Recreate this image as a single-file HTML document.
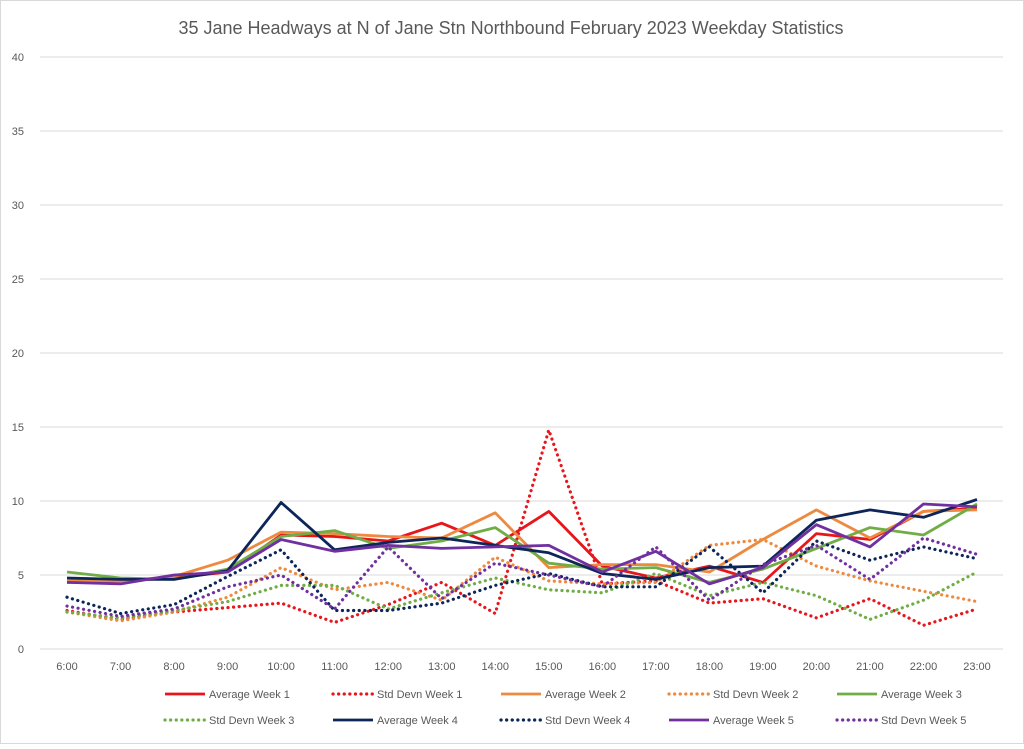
<!DOCTYPE html>
<html><head><meta charset="utf-8"><style>
body{margin:0;background:#fff;}
svg text{font-family:"Liberation Sans",sans-serif;fill:#595959;}
</style></head><body>
<svg id="c" width="1024" height="744" xmlns="http://www.w3.org/2000/svg">
<rect x="0.5" y="0.5" width="1023" height="743" fill="#fff" stroke="#d9d9d9"/>
<text x="511" y="34" font-size="18" text-anchor="middle">35 Jane Headways at N of Jane Stn Northbound February 2023 Weekday Statistics</text>
<g id="grid"></g><g id="series"></g><g id="legend"></g>
</svg>
<script>
var NS="http://www.w3.org/2000/svg",svg=document.getElementById('c');
function el(t,a,p,txt){var e=document.createElementNS(NS,t);for(var k in a)e.setAttribute(k,a[k]);if(txt!=null)e.textContent=txt;(p||svg).appendChild(e);return e;}
var g=document.getElementById('grid'),s=document.getElementById('series'),lg=document.getElementById('legend');
function X(i){return 67+i*53.53;}function Y(v){return 649-v*14.8;}
for(var v=0;v<=40;v+=5){el('line',{x1:40,x2:1003,y1:Y(v),y2:Y(v),stroke:'#d9d9d9','stroke-width':1},g);
el('text',{x:24,y:Y(v)+4,'font-size':11,'text-anchor':'end'},g,v);}
for(var i=0;i<18;i++)el('text',{x:X(i),y:670,'font-size':11,'text-anchor':'middle'},g,(6+i)+':00');
var D=[
['Average Week 1','#e8161b',0,[4.5,4.6,4.8,5.2,7.7,7.6,7.3,8.5,7.0,9.3,5.6,4.8,5.6,4.5,7.8,7.4,9.3,9.5]],
['Std Devn Week 1','#e8161b',1,[2.6,2.0,2.5,2.8,3.1,1.8,3.0,4.5,2.4,14.8,4.4,4.6,3.1,3.4,2.1,3.4,1.6,2.7]],
['Average Week 2','#ed8a3f',0,[4.6,4.6,4.9,6.0,7.9,7.8,7.6,7.5,9.2,5.5,5.7,5.7,5.2,7.4,9.4,7.5,9.3,9.4]],
['Std Devn Week 2','#ed8a3f',1,[2.5,1.9,2.5,3.5,5.5,4.0,4.5,3.3,6.2,4.6,4.4,4.5,7.0,7.4,5.6,4.6,3.9,3.2]],
['Average Week 3','#70ad47',0,[5.2,4.8,4.7,5.4,7.6,8.0,6.8,7.3,8.2,5.8,5.4,5.5,4.5,5.4,6.8,8.2,7.7,9.8]],
['Std Devn Week 3','#70ad47',1,[2.5,2.1,2.6,3.2,4.3,4.3,2.7,3.8,4.8,4.0,3.8,5.1,3.6,4.5,3.6,2.0,3.3,5.2]],
['Average Week 4','#0d2559',0,[4.8,4.7,4.7,5.3,9.9,6.7,7.2,7.5,7.0,6.5,5.1,4.7,5.5,5.6,8.7,9.4,8.9,10.1]],
['Std Devn Week 4','#0d2559',1,[3.5,2.4,3.0,4.9,6.7,2.6,2.6,3.1,4.3,5.1,4.2,4.2,6.9,3.8,7.3,6.0,6.9,6.1]],
['Average Week 5','#7030a0',0,[4.5,4.4,5.0,5.2,7.4,6.6,7.0,6.8,6.9,7.0,5.2,6.6,4.4,5.5,8.4,6.9,9.8,9.6]],
['Std Devn Week 5','#7030a0',1,[2.9,2.2,2.7,4.2,5.0,2.7,6.9,3.4,5.8,5.0,4.2,6.9,3.3,5.7,7.0,4.7,7.5,6.4]]];
function attrs(d){var a={fill:'none',stroke:d[1],'stroke-width':d[2]?3.2:2.8,'stroke-linejoin':'round'};
if(d[2]){a['stroke-dasharray']='0.1 5.5';a['stroke-linecap']='round';}return a;}
D.forEach(function(d,k){var a=attrs(d);a.points=d[3].map(function(v,i){return X(i).toFixed(1)+','+Y(v).toFixed(1)}).join(' ');el('polyline',a,s);
var r=k<5?0:1,c=k<5?k:k-5,lx=165+c*168,ly=r?720:694;var b=attrs(d);b.x1=lx;b.x2=lx+40;b.y1=ly;b.y2=ly;el('line',b,lg);
el('text',{x:lx+44,y:ly+4,'font-size':11},lg,d[0]);});
</script>
</body></html>
